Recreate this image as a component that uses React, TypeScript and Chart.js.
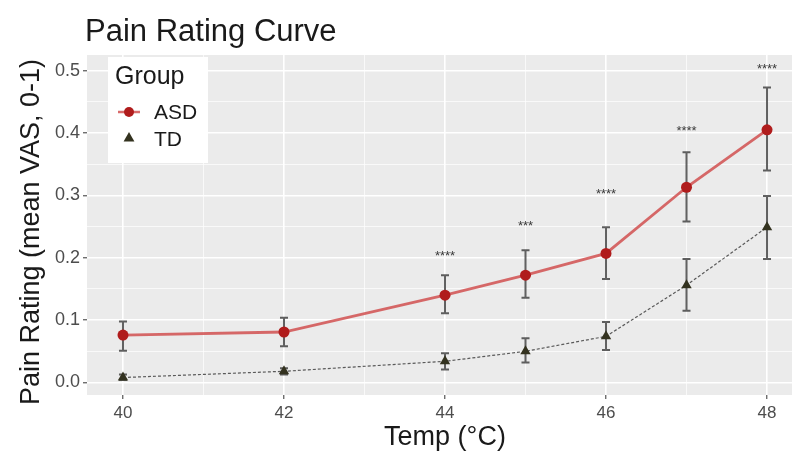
import React, { useEffect, useRef } from "react";
import { Chart, registerables } from "chart.js";

Chart.register(...registerables);

const temps = [40, 42, 44, 45, 46, 47, 48];
const asdMean = [0.076, 0.081, 0.140, 0.172, 0.207, 0.313, 0.405];
const asdLow = [0.051, 0.058, 0.111, 0.136, 0.166, 0.258, 0.340];
const asdHigh = [0.098, 0.104, 0.172, 0.212, 0.249, 0.369, 0.473];
const tdMean = [0.008, 0.018, 0.034, 0.050, 0.074, 0.156, 0.249];
const tdLow = [0.004, 0.013, 0.021, 0.032, 0.052, 0.115, 0.198];
const tdHigh = [0.013, 0.023, 0.047, 0.071, 0.097, 0.198, 0.299];
const sigLabels = ["", "", "****", "***", "****", "****", "****"];
const sigY = [null, null, 0.208, 0.256, 0.307, 0.408, 0.508];
const xTicks = [40, 41, 42, 43, 44, 45, 46, 47, 48];
const yTicks = [0, 0.05, 0.1, 0.15, 0.2, 0.25, 0.3, 0.35, 0.4, 0.45, 0.5];
const seriesNames = ["ASD", "TD"];
const titleText = "Pain Rating Curve";
const xTitle = "Temp (°C)";
const yTitle = "Pain Rating (mean VAS, 0-1)";
const legendTitle = "Group";

const FONT = "'Liberation Sans', Arial, Helvetica, sans-serif";
const ASD_POINT = "#b01c1c";
const ASD_LINE = "rgba(208,70,70,0.8)";
const TD_POINT = "#33321f";
const TD_LINE = "#5a5a5a";

const isMajorX = (v: number) => Math.abs(v % 2) < 1e-6;
const isMajorY = (v: number) => Math.abs(Math.round(v * 10) - v * 10) < 1e-6;

function drawTriangle(ctx: CanvasRenderingContext2D, x: number, y: number, r: number) {
  ctx.beginPath();
  ctx.moveTo(x, y - r);
  ctx.lineTo(x + r * 0.9, y + r * 0.6);
  ctx.lineTo(x - r * 0.9, y + r * 0.6);
  ctx.closePath();
  ctx.fill();
}

const customPlugin = {
  id: "custom",
  beforeDraw(chart: any) {
    const { ctx, chartArea } = chart;
    ctx.save();
    ctx.fillStyle = "#ebebeb";
    ctx.fillRect(chartArea.left, chartArea.top, chartArea.right - chartArea.left, chartArea.bottom - chartArea.top);
    ctx.restore();
  },
  beforeDatasetsDraw(chart: any) {
    const { ctx, scales } = chart;
    const xs = scales.x, ys = scales.y;
    ctx.save();
    ctx.strokeStyle = "rgba(45,45,45,0.75)";
    ctx.lineWidth = 2;
    const bars = [
      [asdLow, asdHigh],
      [tdLow, tdHigh],
    ];
    bars.forEach(([lo, hi]) => {
      temps.forEach((t, i) => {
        const x = xs.getPixelForValue(t);
        const y1 = ys.getPixelForValue(lo[i]);
        const y2 = ys.getPixelForValue(hi[i]);
        ctx.beginPath();
        ctx.moveTo(x, y1);
        ctx.lineTo(x, y2);
        ctx.moveTo(x - 4, y1);
        ctx.lineTo(x + 4, y1);
        ctx.moveTo(x - 4, y2);
        ctx.lineTo(x + 4, y2);
        ctx.stroke();
      });
    });
    ctx.restore();
  },
  afterDatasetsDraw(chart: any) {
    const { ctx, scales, chartArea } = chart;
    const xs = scales.x, ys = scales.y;
    ctx.save();
    // significance labels
    ctx.fillStyle = "#3a3a3a";
    ctx.font = `13px ${FONT}`;
    ctx.textAlign = "center";
    ctx.textBaseline = "alphabetic";
    temps.forEach((t, i) => {
      const v = sigY[i];
      if (v == null || !sigLabels[i]) return;
      ctx.fillText(sigLabels[i], xs.getPixelForValue(t), ys.getPixelForValue(v) + 7);
    });
    // y axis title
    ctx.save();
    ctx.translate(32, (chartArea.top + chartArea.bottom) / 2 + 7);
    ctx.rotate(-Math.PI / 2);
    ctx.fillStyle = "#1a1a1a";
    ctx.font = `27px ${FONT}`;
    ctx.textAlign = "center";
    ctx.textBaseline = "middle";
    ctx.fillText(yTitle, 0, 0);
    ctx.restore();
    // title
    ctx.fillStyle = "#1a1a1a";
    ctx.font = `31px ${FONT}`;
    ctx.textAlign = "left";
    ctx.fillText(titleText, chartArea.left - 2, 41);
    // legend
    const lx = chartArea.left + 21, ly = chartArea.top + 2;
    ctx.fillStyle = "#ffffff";
    ctx.fillRect(lx, ly, 100, 106);
    ctx.fillStyle = "#1a1a1a";
    ctx.font = `25px ${FONT}`;
    ctx.fillText(legendTitle, lx + 7, ly + 27);
    // keys
    const kx = lx + 21;
    const r1 = ly + 55, r2 = ly + 82;
    ctx.strokeStyle = ASD_LINE;
    ctx.lineWidth = 2.5;
    ctx.beginPath();
    ctx.moveTo(kx - 11, r1);
    ctx.lineTo(kx + 11, r1);
    ctx.stroke();
    ctx.fillStyle = ASD_POINT;
    ctx.beginPath();
    ctx.arc(kx, r1, 5, 0, Math.PI * 2);
    ctx.fill();
    ctx.fillStyle = TD_POINT;
    drawTriangle(ctx, kx, r2 - 1, 6);
    ctx.fillStyle = "#1a1a1a";
    ctx.font = `21px ${FONT}`;
    ctx.textBaseline = "middle";
    ctx.fillText(seriesNames[0], lx + 46, r1 + 1);
    ctx.fillText(seriesNames[1], lx + 46, r2 + 1);
    ctx.restore();
  },
};

export default function App() {
  const ref = useRef<HTMLCanvasElement>(null);
  useEffect(() => {
    document.body.style.margin = "0";
    Chart.defaults.font.family = FONT;
    const chart = new Chart(ref.current!, {
      type: "line",
      data: {
        datasets: [
          {
            label: seriesNames[0],
            data: temps.map((t, i) => ({ x: t, y: asdMean[i] })),
            borderColor: ASD_LINE,
            borderWidth: 2.8,
            pointBackgroundColor: ASD_POINT,
            pointBorderColor: ASD_POINT,
            pointRadius: 5.5,
            pointBorderWidth: 0,
            tension: 0,
          },
          {
            label: seriesNames[1],
            data: temps.map((t, i) => ({ x: t, y: tdMean[i] })),
            borderColor: TD_LINE,
            borderWidth: 1.2,
            borderDash: [3, 2],
            pointStyle: "triangle",
            pointBackgroundColor: TD_POINT,
            pointBorderColor: TD_POINT,
            pointRadius: 6,
            pointBorderWidth: 0,
            tension: 0,
          },
        ],
      },
      options: {
        responsive: false,
        animation: false,
        layout: { padding: { top: 55, left: 0, right: 1, bottom: 0 } },
        plugins: { legend: { display: false }, tooltip: { enabled: false }, title: { display: false } },
        scales: {
          x: {
            type: "linear",
            min: 39.553,
            max: 48.447,
            afterBuildTicks: (s: any) => {
              s.ticks = xTicks.map((v) => ({ value: v }));
            },
            afterFit: (s: any) => {
              s.height = 59;
              s.paddingLeft = 0;
              s.paddingRight = 0;
            },
            ticks: {
              autoSkip: false,
              maxRotation: 0,
              padding: 4,
              color: "#4d4d4d",
              font: { size: 17 },
              callback: (v: any) => (isMajorX(Number(v)) ? String(v) : ""),
            },
            grid: {
              color: "#ffffff",
              lineWidth: (c: any) => (isMajorX(c.tick.value) ? 1.6 : 0.7),
              tickColor: (c: any) => (isMajorX(c.tick.value) ? "#333333" : "rgba(0,0,0,0)"),
              tickLength: 4,
              tickWidth: 1,
            },
            border: { display: false },
            title: { display: true, text: xTitle, color: "#1a1a1a", font: { size: 27 }, padding: { top: 0, bottom: 0 } },
          },
          y: {
            type: "linear",
            min: -0.02,
            max: 0.525,
            afterBuildTicks: (s: any) => {
              s.ticks = yTicks.map((v) => ({ value: v }));
            },
            afterFit: (s: any) => {
              s.width = 87;
              s.paddingTop = 0;
              s.paddingBottom = 0;
            },
            ticks: {
              autoSkip: false,
              padding: 3,
              color: "#4d4d4d",
              font: { size: 18 },
              callback: (v: any) => (isMajorY(Number(v)) ? Number(v).toFixed(1) : ""),
            },
            grid: {
              color: "#ffffff",
              lineWidth: (c: any) => (isMajorY(c.tick.value) ? 1.6 : 0.7),
              tickColor: (c: any) => (isMajorY(c.tick.value) ? "#333333" : "rgba(0,0,0,0)"),
              tickLength: 4,
              tickWidth: 1,
            },
            border: { display: false },
            title: { display: false, text: yTitle },
          },
        },
      },
      plugins: [customPlugin],
    });
    return () => chart.destroy();
  }, []);
  return (
    <div style={{ width: 792, height: 454, overflow: "hidden", background: "#fff" }}>
      <canvas ref={ref} width={809} height={454} style={{ display: "block" }} />
    </div>
  );
}
